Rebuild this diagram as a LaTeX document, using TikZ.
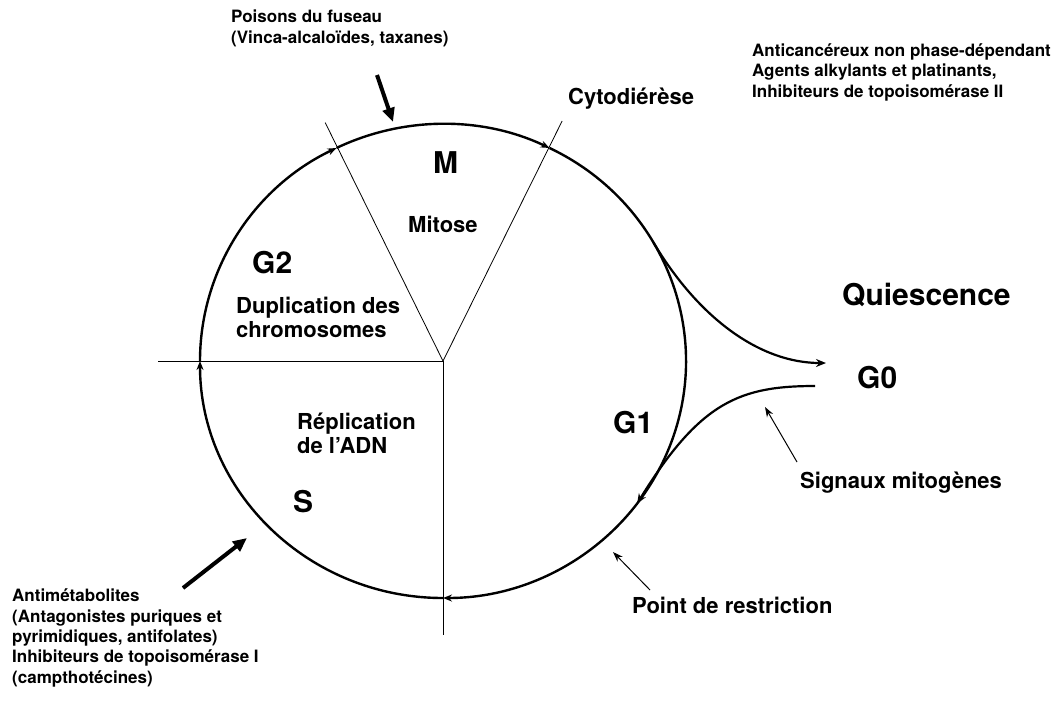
\documentclass[tikz,border=0pt]{standalone}
\usepackage{fontspec}
\setmainfont{TeX Gyre Heros}
\usetikzlibrary{arrows.meta,positioning,calc}

\begin{document}
\begin{tikzpicture}[x=1pt,y=1pt,
    note/.style={anchor=base west,inner sep=0pt,align=left,
                 font=\fontsize{17}{20.3}\selectfont\bfseries},
    phasetext/.style={anchor=base west,inner sep=0pt,align=left,
                 font=\fontsize{22}{24}\selectfont\bfseries},
    phasename/.style={anchor=base west,inner sep=0pt,
                 font=\fontsize{30}{32}\selectfont\bfseries},
    cycle/.style={line width=2.4pt,-{Stealth[length=9pt,width=7pt]}},
    spoke/.style={line width=0.8pt},
    drug/.style={line width=4pt,-{Triangle[length=14pt,width=12pt]}},
    hint/.style={line width=1pt,-{Stealth[length=10pt,width=7pt]}},
    quies/.style={line width=2.2pt}]
  \useasboundingbox (0,0) rectangle (1059,-702);

  % the cycle
  \coordinate (c) at (443,-361);
  \draw[cycle] ($(c)+(180:243pt and 237pt)$) arc[start angle=180,end angle=116,x radius=243pt,y radius=237pt];
  \draw[cycle] ($(c)+(116:243pt and 237pt)$) arc[start angle=116,end angle=64,x radius=243pt,y radius=237pt];
  \draw[cycle] ($(c)+(64:243pt and 237pt)$) arc[start angle=64,end angle=-90,x radius=243pt,y radius=237pt];
  \draw[cycle] ($(c)+(-90:243pt and 237pt)$) arc[start angle=-90,end angle=-180,x radius=243pt,y radius=237pt];

  \draw[spoke] (c) -- ++(116.3:266pt);
  \draw[spoke] (c) -- ++(63.6:268pt);
  \draw[spoke] (c) -- ++(180:285pt);
  \draw[spoke] (c) -- ++(270:274pt);

  % quiescence loop
  \coordinate (leave) at ($(c)+(30:243pt and 237pt)$);
  \coordinate (g0in) at (826,-363);
  \coordinate (g0out) at (815,-386);
  \coordinate (back) at ($(c)+(-37:243pt and 237pt)$);
  \draw[quies,-{Stealth[length=10pt,width=8pt]}] (leave) .. controls +(46,-77) and +(-65,0) .. (g0in);
  \draw[quies,-{Stealth[length=10pt,width=8pt]}] (g0out) .. controls +(-75,0) and +(63,102) .. (back);

  % labels (multi-line nodes sit on their last line)
  \node[phasename] (M) at (433,-173) {M};
  \node[phasetext] (mitose) at (408,-232) {Mitose};
  \node[phasename] (G2) at (252,-273) {G2};
  \node[phasetext] (dupl) at (236,-337) {Duplication des\\chromosomes};
  \node[phasetext] (repl) at (297,-453) {Réplication\\de l’ADN};
  \node[phasename] (S) at (293,-512) {S};
  \node[phasename] (G1) at (613,-433) {G1};
  \node[phasename] (quiesc) at (842,-305) {Quiescence};
  \node[phasename] (G0) at (857,-388) {G0};
  \node[phasetext] (cyto) at (568,-104) {Cytodiérèse};
  \node[phasetext] (signaux) at (800,-488) {Signaux mitogènes};
  \node[phasetext] (restr) at (632,-613) {Point de restriction};

  \node[note] (poisons) at (231,-43) {Poisons du fuseau\\(Vinca-alcaloïdes, taxanes)};
  \node[note] (anticanc) at (752,-97) {Anticancéreux non phase-dépendant\\Agents alkylants et platinants,\\Inhibiteurs de topoisomérase II};
  \node[note] (antimet) at (12,-683) {Antimétabolites\\(Antagonistes puriques et\\pyrimidiques, antifolates)\\Inhibiteurs de topoisomérase I\\(campthotécines)};

  % arrows
  \coordinate (poisA) at (377,-75);
  \coordinate (poisB) at (393,-122);
  \coordinate (antiA) at (183,-588);
  \coordinate (antiB) at (247,-538);
  \coordinate (sigA) at (797,-462);
  \coordinate (sigB) at (765,-407);
  \coordinate (restA) at (650,-590);
  \coordinate (restB) at (613,-552);
  \draw[drug] (poisA) -- (poisB);
  \draw[drug] (antiA) -- (antiB);
  \draw[hint] (sigA) -- (sigB);
  \draw[hint] (restA) -- (restB);
\end{tikzpicture}
\end{document}
